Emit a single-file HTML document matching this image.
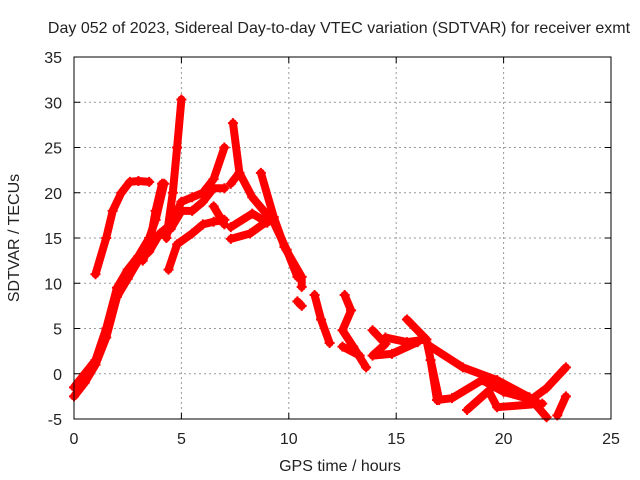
<!DOCTYPE html>
<html><head><meta charset="utf-8"><style>
body{margin:0;background:#fff}
svg{display:block;font-family:"Liberation Sans",sans-serif;font-size:16px;fill:#222}
</style></head><body>
<svg id="chart" width="640" height="480" viewBox="0 0 640 480">
<text x="339" y="33" text-anchor="middle">Day 052 of 2023, Sidereal Day-to-day VTEC variation (SDTVAR) for receiver exmt</text>
<g id="grid"></g>
<g id="series"></g>
<rect x="74" y="57" width="537" height="362" fill="none" stroke="#000" stroke-width="1"/>
<g id="axes"></g>
<text x="340" y="471" text-anchor="middle">GPS time / hours</text>
<text transform="translate(19,238) rotate(-90)" text-anchor="middle">SDTVAR / TECUs</text>
</svg>
<script>
const xTicks=[0,5,10,15,20,25];
const yTicks=[-5,0,5,10,15,20,25,30,35];
const seriesA=[[0,-2.5],[0.5,-1],[1,1],[1.5,4],[2,8.5],[2.5,10.5],[3,12.5],[3.5,13.5],[4,15.5],[4.5,16.5],[5,19],[5.5,19.5],[6,20],[6.5,21.5],[7,25]];
const seriesB=[[0,-1.5],[0.5,0],[1,1.5],[1.5,5],[2,9.5],[2.5,11.5],[3,13],[3.5,15],[3.8,17],[4.2,21]];
const seriesC=[[1,11],[1.5,15],[1.8,18],[2.2,20],[2.6,21.2],[3,21.3],[3.5,21.2]];
const seriesD=[[3.2,12.5],[3.5,14],[3.8,18],[4.1,21]];
const seriesE=[[4.3,15],[4.6,20],[4.8,25],[5,30.3]];
const seriesF=[[4.5,16],[5,18],[5.5,18],[6,19],[6.5,20.5],[7,20.5]];
const seriesG=[[4.4,11.5],[4.8,14.3],[5.5,15.5],[6,16.5],[6.5,16.8],[7,17]];
const seriesH=[[6.5,18.5],[7,16.5]];
const seriesI=[[7.4,27.7],[7.7,22.2],[8.3,19.5],[9.3,16.7],[9.9,13.7],[10.4,10.7]];
const seriesJ=[[7.3,21],[7.7,22.2]];
const seriesK=[[8.7,22.2],[9.3,17.3],[9.8,14],[10.6,10.7],[10.6,9.6]];
const seriesL=[[7.3,16.2],[8.3,17.7],[9,16.7]];
const seriesM=[[7.3,14.9],[8.2,15.5],[8.9,16.7]];
const seriesN=[[10.4,8],[10.6,7.5]];
const seriesO=[[11.2,8.7],[11.5,6],[11.9,3.4]];
const seriesP=[[12.6,8.7],[12.9,7],[12.5,4.8],[13,3],[13.6,0.7]];
const seriesQ=[[12.5,3],[13.3,2]];
const seriesR=[[13.9,4.8],[14.5,3.3],[13.9,2],[14.8,2.2],[16,3.5]];
const seriesS=[[14.5,4],[15.5,3.5],[16.4,3.8]];
const seriesT=[[15.5,6],[16.4,3.8],[17,-2.9]];
const seriesU=[[16.6,3],[18.1,0.7],[19.7,-0.7],[21.2,-2.6],[22,-4.8]];
const seriesV=[[16.6,1.5],[16.9,-2.9],[17.6,-2.7],[19,-0.7],[20,-2],[21.5,-3]];
const seriesW=[[18.3,-4],[19.3,-1.9],[19.7,-3.7],[21.8,-3.3]];
const seriesX=[[21.2,-3],[22,-1.6],[22.9,0.7]];
const seriesY=[[22.5,-4.6],[22.9,-2.5]];
const allSeries=[seriesA,seriesB,seriesC,seriesD,seriesE,seriesF,seriesG,seriesH,seriesI,seriesJ,seriesK,seriesL,seriesM,seriesN,seriesO,seriesP,seriesQ,seriesR,seriesS,seriesT,seriesU,seriesV,seriesW,seriesX,seriesY];
const X0=74,X1=611,Y0=419,Y1=57;
function xs(v){return X0+(v-0)/(25-0)*(X1-X0);}
function ys(v){return Y0-(v+5)/(35+5)*(Y0-Y1);}
const NS="http://www.w3.org/2000/svg";
const grid=document.getElementById('grid'),axes=document.getElementById('axes'),sg=document.getElementById('series');
function mk(t,a,p){const e=document.createElementNS(NS,t);for(const k in a)e.setAttribute(k,a[k]);p.appendChild(e);return e;}
xTicks.forEach(t=>{
  const x=xs(t);
  if(t>0&&t<25){const g=mk('line',{x1:x,x2:x,y1:Y1,y2:Y0,stroke:'#999','stroke-dasharray':'2,3'},grid);
  
  }
  const tk=mk('path',{d:`M${x},${Y0}v-6M${x},${Y1}v6`,stroke:'#000'},axes);
  
  
  const l=mk('text',{x:x,y:444,'text-anchor':'middle'},axes);l.textContent=t;
  
  
});
yTicks.forEach(t=>{
  const y=ys(t);
  if(t>-5&&t<35){const g=mk('line',{x1:X0,x2:X1,y1:y,y2:y,stroke:'#999','stroke-dasharray':'2,3'},grid);
  
  }
  const tk=mk('path',{d:`M${X0},${y}h6M${X1},${y}h-6`,stroke:'#000'},axes);
  
  
  const l=mk('text',{x:62,y:y+6,'text-anchor':'end'},axes);l.textContent=t;
  
  
});
allSeries.forEach((s,i)=>{
  const d=s.map((p,j)=>(j?'L':'M')+xs(p[0]).toFixed(1)+','+ys(p[1]).toFixed(1)).join('');
  const path=mk('path',{d:d,fill:'none',stroke:'#f00','stroke-width':8,'stroke-linejoin':'round','stroke-linecap':'round'},sg);
  
  
  s.forEach(p=>{
    const m=mk('path',{d:`M${xs(p[0])-5},${ys(p[1])}h10M${xs(p[0])},${ys(p[1])-5}v10`,stroke:'#f00','stroke-width':2},sg);
    
    
  });
});
</script>
</body></html>
